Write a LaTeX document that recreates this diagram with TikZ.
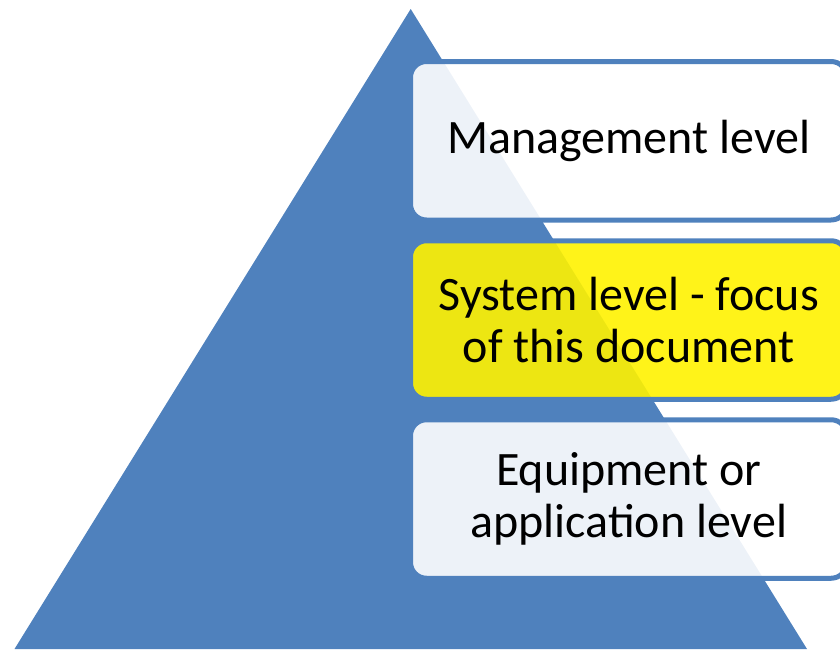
\documentclass[tikz,border=0pt]{standalone}
\usepackage{fontspec}
\setmainfont{Carlito}
\usepackage{tikz}
\usetikzlibrary{positioning}
\definecolor{pyrblue}{HTML}{4F81BD}
\tikzset{
    level/.style={
           rectangle,
           rounded corners=8pt,
           draw=pyrblue, line width=2.5pt,
           fill=white, fill opacity=0.9, text opacity=1,
           minimum width=218.25pt,
           minimum height=79.25pt,
           inner sep=2pt,
           align=center,
           font=\fontsize{24}{26}\selectfont
           },
    focus/.style={
                  fill=yellow
                  },
}
\begin{document}
\begin{tikzpicture}[x=0.5pt, y=-0.5pt]
   \useasboundingbox (0,0) rectangle (840,649);
   \clip (0,0) rectangle (840,649);
   % pyramid
   \fill[pyrblue] (410.7,9) -- (807,649) -- (14.5,649) -- cycle;
   \node[level] (mgmt) at (628.75,140.75) {\raisebox{-1pt}{Management level}};
   \node[level, focus] (sys) at (628.75,320) {System level - focus\\of this document};
   \node[level] (equip) at (628.75,499) {\raisebox{-1pt}{Equipment or}\\\raisebox{-1pt}{application level}};
\end{tikzpicture}
\end{document}
